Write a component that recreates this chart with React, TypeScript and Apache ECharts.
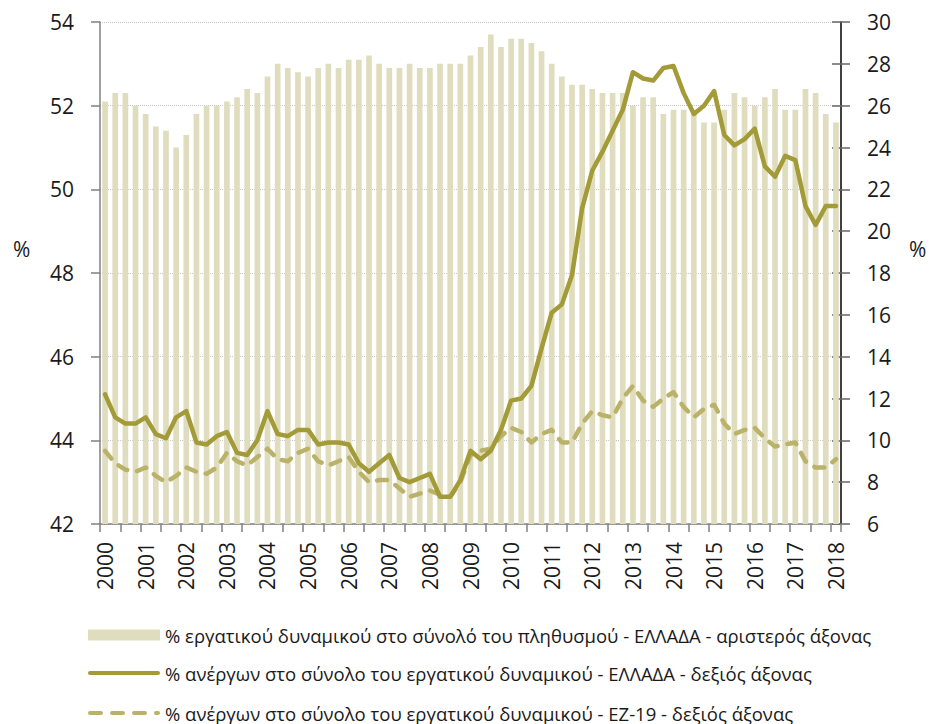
import React, { useEffect, useRef } from "react";
import * as echarts from "echarts";

const years = ["2000","2001","2002","2003","2004","2005","2006","2007","2008","2009","2010","2011","2012","2013","2014","2015","2016","2017","2018"];
const quarters: string[] = years.flatMap((y) => (y === "2018" ? [y + "Q1"] : [y + "Q1", y + "Q2", y + "Q3", y + "Q4"]));

const labourForceShareGR = [
  52.1, 52.3, 52.3, 52.0, 51.8, 51.5, 51.4, 51.0, 51.3, 51.8, 52.0, 52.0, 52.1, 52.2, 52.4, 52.3, 52.7, 53.0, 52.9, 52.8, 52.7, 52.9, 53.0, 52.9, 53.1,
  53.1, 53.2, 53.0, 52.9, 52.9, 53.0, 52.9, 52.9, 53.0, 53.0, 53.0, 53.2, 53.4, 53.7, 53.4, 53.6, 53.6, 53.5, 53.3, 53.0, 52.7, 52.5, 52.5, 52.4,
  52.3, 52.3, 52.3, 52.0, 52.2, 52.2, 51.8, 51.9, 51.9, 51.9, 51.6, 51.6, 51.9, 52.3, 52.2, 52.0, 52.2, 52.4, 51.9, 51.9, 52.4, 52.3, 51.8, 51.6,
];

const unemploymentGR = [
  12.2, 11.1, 10.8, 10.8, 11.1, 10.3, 10.1, 11.1, 11.4, 9.9, 9.8, 10.2, 10.4, 9.4, 9.3, 10.0, 11.4, 10.3, 10.2, 10.5, 10.5, 9.8, 9.9, 9.9, 9.8,
  8.9, 8.5, 8.9, 9.3, 8.2, 8.0, 8.2, 8.4, 7.3, 7.3, 8.1, 9.5, 9.1, 9.5, 10.5, 11.9, 12.0, 12.6, 14.4, 16.1, 16.5, 17.9, 21.1, 22.9,
  23.8, 24.8, 25.8, 27.6, 27.3, 27.2, 27.8, 27.9, 26.6, 25.6, 26.0, 26.7, 24.6, 24.1, 24.4, 24.9, 23.1, 22.6, 23.6, 23.4, 21.2, 20.3, 21.2, 21.2,
];

const unemploymentEZ19 = [
  9.5, 8.9, 8.6, 8.5, 8.7, 8.3, 8.0, 8.3, 8.7, 8.5, 8.4, 8.7, 9.4, 9.0, 8.8, 9.2, 9.6, 9.1, 9.0, 9.4, 9.6, 9.0, 8.8, 9.0, 9.2,
  8.5, 8.0, 8.1, 8.1, 7.7, 7.3, 7.45, 7.6, 7.4, 7.3, 8.0, 9.3, 9.5, 9.6, 10.2, 10.6, 10.4, 9.9, 10.3, 10.5, 9.9, 9.9, 10.8, 11.4,
  11.2, 11.1, 12.0, 12.6, 11.9, 11.6, 12.0, 12.3, 11.6, 11.1, 11.5, 11.7, 10.8, 10.3, 10.5, 10.6, 10.1, 9.7, 9.8, 9.9, 9.0, 8.7, 8.7, 9.1,
];

const seriesNames = [
  "% εργατικού δυναμικού στο σύνολό του πληθυσμού - ΕΛΛΑΔΑ - αριστερός άξονας",
  "% ανέργων στο σύνολο του εργατικού δυναμικού - ΕΛΛΑΔΑ - δεξιός άξονας",
  "% ανέργων στο σύνολο του εργατικού δυναμικού - ΕΖ-19 - δεξιός άξονας",
];

const FONT = "'Open Sans', sans-serif";
const TEXT = "#1a1a1a";
const BAR_COLOR = "#e0ddbf";
const GR_COLOR = "#a39a38";
const EZ_COLOR = "#bbb26a";

const SOLID_ICON = "path://M2,0 H70 A2,2 0 0 1 70,4 H2 A2,2 0 0 1 2,0 Z";
const DASH_ICON =
  "path://M2,0 H13 A2,2 0 0 1 13,4 H2 A2,2 0 0 1 2,0 Z " +
  "M24,0 H35 A2,2 0 0 1 35,4 H24 A2,2 0 0 1 24,0 Z " +
  "M46,0 H57 A2,2 0 0 1 57,4 H46 A2,2 0 0 1 46,0 Z " +
  "M68,0 H70 A2,2 0 0 1 70,4 H68 A2,2 0 0 1 68,0 Z";

const legendBase = {
  orient: "horizontal",
  left: 88,
  itemWidth: 72,
  itemGap: 0,
  padding: 0,
  textStyle: { fontSize: 18.5, color: TEXT, fontFamily: FONT, lineHeight: 20 },
  selectedMode: false,
};

export default function App() {
  const ref = useRef<HTMLDivElement>(null);
  useEffect(() => {
    if (!ref.current) return;
    const chart = echarts.init(ref.current, undefined, { renderer: "svg" });
    chart.setOption({
      animation: false,
      textStyle: { fontFamily: FONT },
      grid: { left: 100, right: 95, top: 22, bottom: 200, containLabel: false },
      legend: [
        { ...legendBase, top: 625, itemHeight: 11, data: [{ name: seriesNames[0], icon: "rect", itemStyle: { color: BAR_COLOR } }] },
        { ...legendBase, top: 663, itemHeight: 4.5, data: [{ name: seriesNames[1], icon: SOLID_ICON, itemStyle: { color: GR_COLOR } }] },
        { ...legendBase, top: 703, itemHeight: 4.5, data: [{ name: seriesNames[2], icon: DASH_ICON, itemStyle: { color: EZ_COLOR } }] },
      ],
      graphic: [
        { type: "text", left: 13, top: 238, style: { text: "%", fontSize: 21, fill: TEXT, fontFamily: FONT } },
        { type: "text", left: 909, top: 238, style: { text: "%", fontSize: 21, fill: TEXT, fontFamily: FONT } },
      ],
      xAxis: {
        type: "category",
        data: quarters,
        boundaryGap: true,
        axisLine: { lineStyle: { color: "#808080", width: 1.5 } },
        axisTick: { show: true, interval: 1, length: 8, lineStyle: { color: "#808080", width: 1.5 } },
        axisLabel: {
          interval: 3,
          rotate: 90,
          fontSize: 21,
          color: TEXT,
          margin: 18,
          fontFamily: FONT,
          formatter: (v: string) => v.slice(0, 4),
        },
        splitLine: { show: false },
      },
      yAxis: [
        {
          type: "value",
          min: 42,
          max: 54,
          interval: 2,
          position: "left",
          axisLine: { show: true, lineStyle: { color: "#808080", width: 1.5 } },
          axisTick: { show: true, length: 9, lineStyle: { color: "#808080", width: 1.5 } },
          axisLabel: { fontSize: 21, color: TEXT, margin: 26, fontFamily: FONT },
          splitLine: { show: true, lineStyle: { color: "#c8c8c8", type: "dotted", width: 1 } },
        },
        {
          type: "value",
          min: 6,
          max: 30,
          interval: 2,
          position: "right",
          axisLine: { show: true, lineStyle: { color: "#000000", width: 1.5 } },
          axisTick: { show: true, length: 9, lineStyle: { color: "#666666", width: 1.5 } },
          axisLabel: { fontSize: 21, color: TEXT, margin: 26, fontFamily: FONT },
          splitLine: { show: false },
        },
        {
          type: "value",
          min: 6,
          max: 30,
          interval: 2,
          position: "right",
          axisLine: { show: false },
          axisTick: { show: true, inside: true, length: 9, lineStyle: { color: "#666666", width: 1.5 } },
          axisLabel: { show: false },
          splitLine: { show: false },
        },
      ],
      series: [
        {
          name: seriesNames[0],
          type: "bar",
          yAxisIndex: 0,
          data: labourForceShareGR,
          barCategoryGap: "44%",
          itemStyle: { color: BAR_COLOR },
          z: 1,
        },
        {
          name: seriesNames[1],
          type: "line",
          yAxisIndex: 1,
          data: unemploymentGR,
          symbol: "none",
          lineStyle: { color: GR_COLOR, width: 4.5, cap: "round", join: "round" },
          itemStyle: { color: GR_COLOR },
          z: 4,
        },
        {
          name: seriesNames[2],
          type: "line",
          yAxisIndex: 1,
          data: unemploymentEZ19,
          symbol: "none",
          lineStyle: { color: EZ_COLOR, width: 4.5, type: [10, 10], cap: "round", join: "round" },
          itemStyle: { color: EZ_COLOR },
          z: 3,
        },
      ],
    });
    return () => chart.dispose();
  }, []);
  return (
    <div style={{ position: "absolute", left: 0, top: 0, width: 936, height: 724, background: "#ffffff" }}>
      <div ref={ref} style={{ width: 936, height: 724 }} />
    </div>
  );
}
